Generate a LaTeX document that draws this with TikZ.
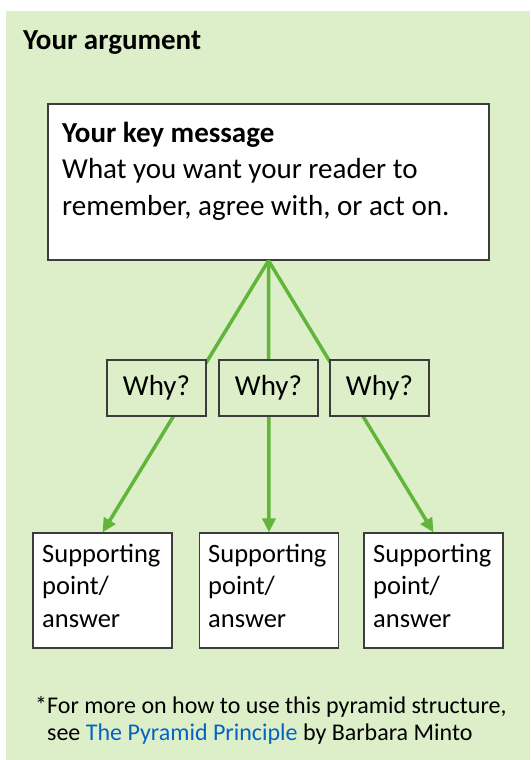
\documentclass[tikz,border=0pt]{standalone}
\usepackage{fontspec}
\setmainfont{Carlito}
\usetikzlibrary{arrows.meta}
\definecolor{bggreen}{RGB}{220,239,201}
\definecolor{linegreen}{RGB}{96,181,58}
\definecolor{boxline}{RGB}{60,60,60}
\definecolor{linkblue}{RGB}{5,99,193}
\begin{document}
\begin{tikzpicture}[x=1pt,y=-1pt,
  boxframe/.style={draw=boxline, line width=1.2pt, inner sep=0pt},
  keybox/.style={boxframe, fill=white, minimum width=441pt, minimum height=156pt},
  keytext/.style={anchor=base west, inner sep=0pt, align=left,
    font=\fontsize{29}{36.5}\selectfont},
  whybox/.style={boxframe, fill=bggreen, minimum width=99pt,
    minimum height=56pt, font=\fontsize{29}{34}\selectfont},
  supbox/.style={boxframe, fill=white, minimum width=139pt, minimum height=115pt},
  suptext/.style={anchor=base west, inner sep=0pt, align=left,
    font=\fontsize{26.5}{32.5}\selectfont},
  conn/.style={draw=linegreen, line width=3.5pt, -{Triangle[length=14pt,width=13pt]}}
]
\useasboundingbox (0,0) rectangle (530,760);
\fill[bggreen] (6,11) rectangle (530,760);
\node[anchor=base west, inner sep=0pt, font=\bfseries\fontsize{29}{35}\selectfont] (title) at (23,49) {Your argument};
\node[keybox] (key) at (268.5,182) {};
\node[keytext] (keyt) at (62,215) {\textbf{Your key message}\\What you want your reader to\\remember, agree with, or act on.};
\node[supbox] (sup1) at (102.5,590.5) {};
\node[supbox] (sup2) at (269,590.5) {};
\node[supbox] (sup3) at (433.5,590.5) {};
\node[suptext] (sup1t) at (42,627) {Supporting\\point/\\answer};
\node[suptext] (sup2t) at (208,627) {Supporting\\point/\\answer};
\node[suptext] (sup3t) at (373,627) {Supporting\\point/\\answer};
\draw[conn] (key.south) -- (sup1.north);
\draw[conn] (key.south) -- (sup2.north);
\draw[conn] (key.south) -- (sup3.north);
\node[whybox] (why1) at (156.5,388) {\raisebox{-1pt}{Why?}};
\node[whybox] (why2) at (268.5,388) {\raisebox{-1pt}{Why?}};
\node[whybox] (why3) at (379.5,388) {\raisebox{-1pt}{Why?}};
\node[anchor=base west, inner sep=0pt, align=left, font=\fontsize{24}{27}\selectfont] (note) at (35,740) {*For more on how to use this pyramid structure,\\\phantom{*}see \textcolor{linkblue}{The Pyramid Principle} by Barbara Minto};
\end{tikzpicture}
\end{document}
